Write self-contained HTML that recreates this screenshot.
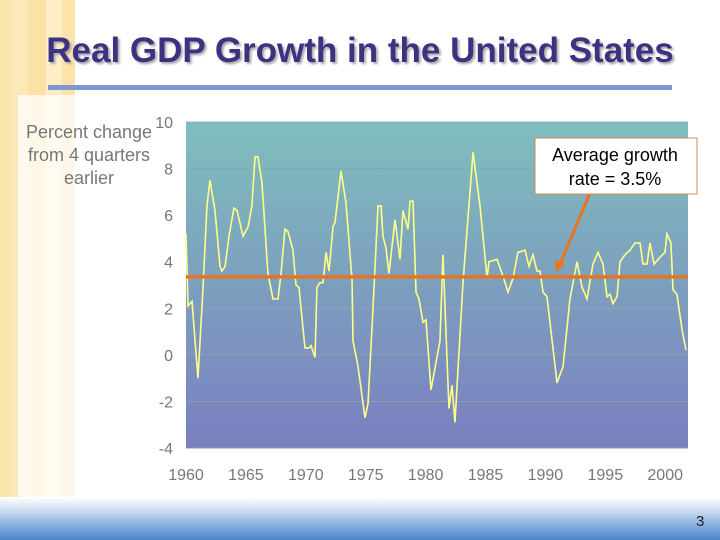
<!DOCTYPE html>
<html><head><meta charset="utf-8"><style>
body{margin:0;width:720px;height:540px;overflow:hidden;background:#fff;font-family:"Liberation Sans",sans-serif;position:relative}
.abs{position:absolute}
</style></head><body>
<div class="abs" style="left:0;top:0;width:75px;height:540px;background:linear-gradient(90deg,#fbe6b0 0,#fbe6b0 10px,#fde9b8 10px,#fde9b8 28px,#fbe1a6 28px,#fbe1a6 46px,#fdeec6 46px,#fdeec6 62px,#fbe3aa 62px,#fbe3aa 75px)"></div>
<div class="abs" style="left:18px;top:95px;width:170px;height:402px;background:rgba(255,255,255,0.75)"></div>
<div class="abs" style="left:0;top:497px;width:720px;height:43px;background:linear-gradient(180deg,#ffffff 0,#cfdff2 30%,#7fa8dc 70%,#4d86cc 100%)"></div>
<div class="abs" style="left:696px;top:513px;font-size:15px;color:#222">3</div>
<div class="abs" style="left:0;top:31px;width:720px;text-align:center;font-size:35px;font-weight:bold;color:#3b3382;text-shadow:2px 2px 2px #aaa">Real GDP Growth in the United States</div>
<div class="abs" style="left:48px;top:85px;width:624px;height:5px;background:#7e98cf"></div>
<div class="abs" style="left:16px;top:121px;width:146px;text-align:center;font-size:18px;line-height:23px;color:#777">Percent change from 4 quarters earlier</div>
<svg class="abs" style="left:0;top:0" width="720" height="540" id="chart">
<defs><linearGradient id="bg" x1="0" y1="0" x2="0" y2="1"><stop offset="0" stop-color="#7fbfbd"/><stop offset="1" stop-color="#7a7fc0"/></linearGradient></defs>
<rect x="186" y="122" width="502" height="326" fill="url(#bg)"/>
<g id="grid"></g><g id="ticks"></g>
<polyline id="series" fill="none" stroke="#ffff88" stroke-width="1.6"/>
<line id="avg" stroke="#e8741e" stroke-width="3.5"/>
<line x1="590" y1="193" x2="560" y2="264" stroke="#e8741e" stroke-width="3"/>
<polygon points="556,272 555,260 565,264" fill="#e8741e"/>
<rect x="535" y="138" width="162" height="56" fill="#fff" stroke="#d08a50" stroke-width="1"/>
<text x="615" y="161" text-anchor="middle" font-size="18" fill="#000">Average growth</text>
<text x="615" y="185" text-anchor="middle" font-size="18" fill="#000">rate = 3.5%</text>
</svg>
<script>
const years=[1960.0,1960.17,1960.5,1961.0,1961.42,1961.75,1962.0,1962.42,1962.84,1963.0,1963.26,1963.59,1964.0,1964.26,1964.76,1965.18,1965.5,1965.76,1966.0,1966.34,1966.84,1967.26,1967.68,1967.93,1968.26,1968.51,1968.93,1969.18,1969.43,1969.93,1970.27,1970.43,1970.77,1970.93,1971.19,1971.44,1971.69,1971.94,1972.27,1972.44,1972.94,1973.36,1973.86,1973.94,1974.36,1974.94,1975.19,1975.53,1975.78,1976.03,1976.28,1976.44,1976.69,1976.94,1977.45,1977.86,1978.11,1978.53,1978.7,1978.95,1979.2,1979.45,1979.78,1980.03,1980.45,1981.2,1981.45,1981.95,1982.2,1982.45,1983.12,1983.96,1984.54,1985.13,1985.29,1985.96,1986.38,1986.88,1987.3,1987.71,1988.3,1988.63,1988.96,1989.3,1989.55,1989.8,1990.13,1990.97,1991.47,1992.05,1992.64,1993.06,1993.47,1993.97,1994.39,1994.81,1995.14,1995.39,1995.64,1995.98,1996.23,1996.64,1997.06,1997.48,1997.9,1998.15,1998.48,1998.73,1999.07,1999.57,1999.98,2000.15,2000.48,2000.65,2000.98,2001.4,2001.74];
const growth=[5.2,2.1,2.3,-1.0,2.9,6.4,7.5,6.2,3.8,3.6,3.8,5.1,6.3,6.2,5.1,5.5,6.4,8.5,8.5,7.4,3.5,2.4,2.4,3.5,5.4,5.3,4.5,3.0,2.9,0.3,0.3,0.4,-0.1,2.9,3.1,3.1,4.4,3.6,5.5,5.7,7.9,6.5,3.2,0.6,-0.5,-2.7,-2.1,1.2,3.8,6.4,6.4,5.1,4.6,3.5,5.8,4.1,6.2,5.4,6.6,6.6,2.7,2.4,1.4,1.5,-1.5,0.6,4.3,-2.3,-1.3,-2.9,3.1,8.7,6.4,3.3,4.0,4.1,3.5,2.7,3.3,4.4,4.5,3.8,4.3,3.6,3.6,2.7,2.5,-1.2,-0.5,2.4,4.0,2.9,2.4,3.9,4.4,3.9,2.5,2.6,2.2,2.5,4.0,4.3,4.5,4.8,4.8,3.9,3.9,4.8,3.9,4.2,4.4,5.2,4.8,2.8,2.6,1.1,0.2];
const average=[3.35];
const yTicks=[10,8,6,4,2,0,-2,-4];
const xTicks=[1960,1965,1970,1975,1980,1985,1990,1995,2000];
const X=v=>186+(v-1960)*11.98;
const Y=v=>122+(10-v)*23.29;
const NS="http://www.w3.org/2000/svg";
const grid=document.getElementById('grid'),ticks=document.getElementById('ticks');
yTicks.forEach(t=>{
 const l=document.createElementNS(NS,'line');
 l.setAttribute('x1',186);l.setAttribute('x2',688);l.setAttribute('y1',Y(t));l.setAttribute('y2',Y(t));
 l.setAttribute('stroke','#8aa6a8');l.setAttribute('stroke-width','0.8');
 
 
 grid.appendChild(l);
 const tx=document.createElementNS(NS,'text');
 tx.setAttribute('x',173);tx.setAttribute('y',Y(t)+6);tx.setAttribute('text-anchor','end');
 tx.setAttribute('font-size','16');tx.setAttribute('fill','#777');tx.textContent=t;
 
 
 ticks.appendChild(tx);
});
xTicks.forEach(t=>{
 const tx=document.createElementNS(NS,'text');
 tx.setAttribute('x',X(t));tx.setAttribute('y',480);tx.setAttribute('text-anchor','middle');
 tx.setAttribute('font-size','16');tx.setAttribute('fill','#777');tx.textContent=t;
 
 
 ticks.appendChild(tx);
});
document.getElementById('series').setAttribute('points',years.map((y,i)=>X(y)+','+Y(growth[i])).join(' '));
const a=document.getElementById('avg');
a.setAttribute('x1',186);a.setAttribute('x2',688);a.setAttribute('y1',Y(average[0]));a.setAttribute('y2',Y(average[0]));
</script>
</body></html>
